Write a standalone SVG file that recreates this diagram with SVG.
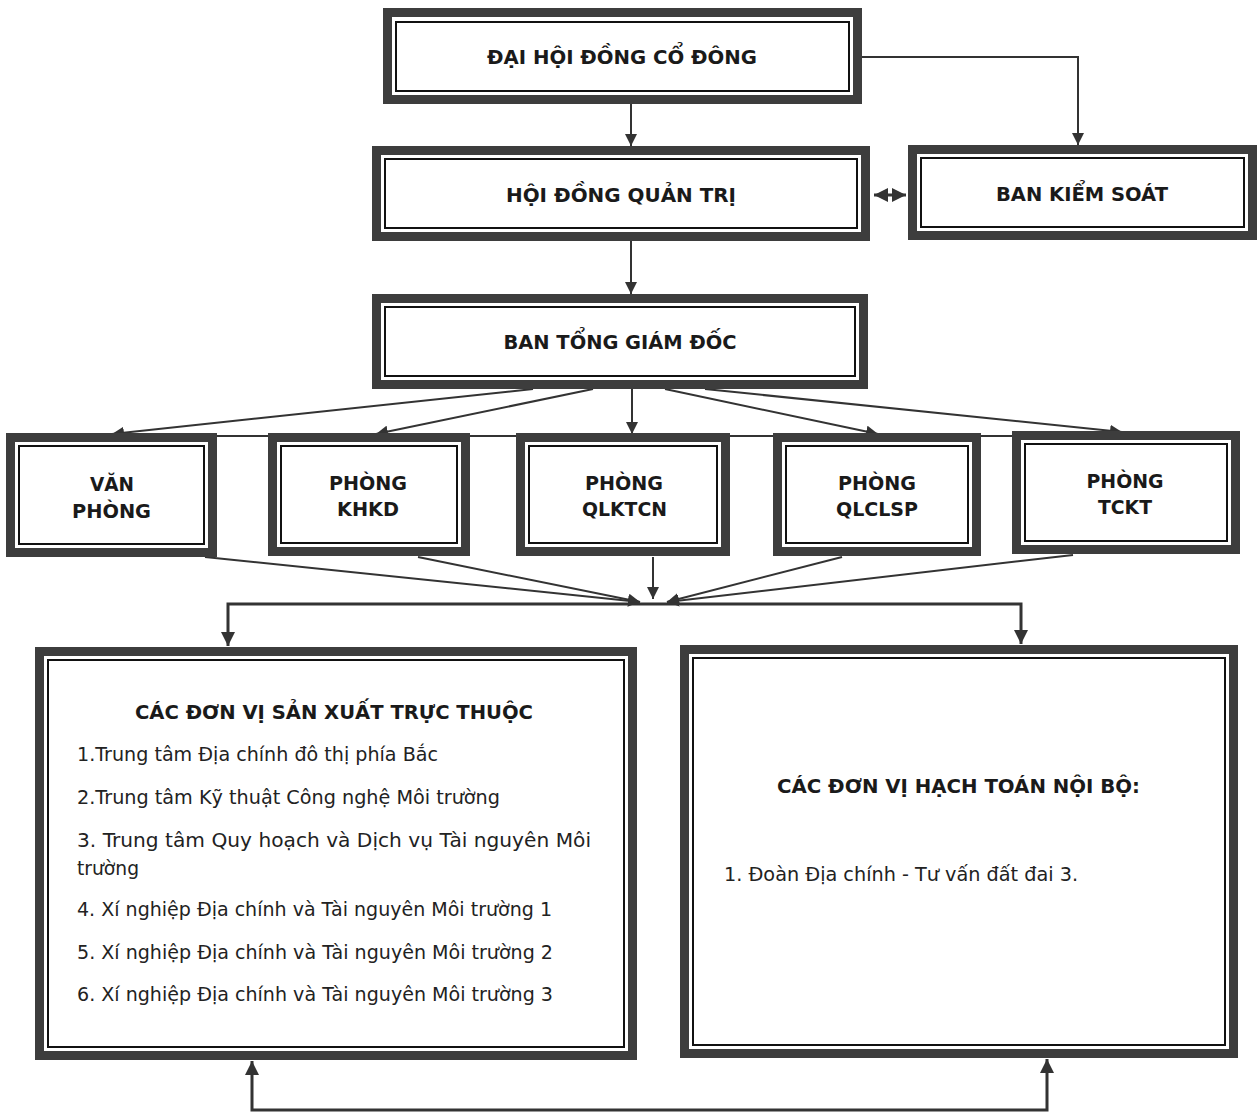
<svg xmlns="http://www.w3.org/2000/svg" width="1258" height="1115" viewBox="0 0 1258 1115">
<style>
.band{fill:#fff;stroke:#3d3d3d;stroke-width:9}
.inner{fill:#fff;stroke:#111;stroke-width:2}
.t{font-family:"DejaVu Sans","Liberation Sans",sans-serif;font-weight:bold;font-size:20px;fill:#1a1a1a;text-anchor:middle}
.b{font-family:"DejaVu Sans","Liberation Sans",sans-serif;font-size:19px;fill:#222}
.c{fill:none;stroke:#333;stroke-width:2}
.ct{fill:none;stroke:#333;stroke-width:3}
</style>
<defs>
<marker id="ah" viewBox="0 0 10 10" refX="10" refY="5" markerWidth="12" markerHeight="12" markerUnits="userSpaceOnUse" orient="auto-start-reverse">
<path d="M0,0 L10,5 L0,10 z" fill="#333"/>
</marker>
<marker id="ahb" viewBox="0 0 10 10" refX="10" refY="5" markerWidth="14" markerHeight="14" markerUnits="userSpaceOnUse" orient="auto-start-reverse">
<path d="M0,0 L10,5 L0,10 z" fill="#333"/>
</marker>
</defs>

<g id="connectors">
<line class="c" x1="110" y1="436" x2="1125" y2="436"/>
<line class="c" x1="631" y1="104" x2="631" y2="146" marker-end="url(#ah)"/>
<polyline class="c" points="862,57 1078,57 1078,145" marker-end="url(#ah)"/>
<line class="ct" x1="874" y1="195" x2="906" y2="195" marker-start="url(#ahb)" marker-end="url(#ahb)"/>
<line class="c" x1="631" y1="241" x2="631" y2="294" marker-end="url(#ah)"/>
<line class="c" x1="533" y1="389" x2="112" y2="434" marker-end="url(#ah)"/>
<line class="c" x1="593" y1="389" x2="376" y2="434" marker-end="url(#ah)"/>
<line class="c" x1="632" y1="389" x2="632" y2="434" marker-end="url(#ah)"/>
<line class="c" x1="665" y1="389" x2="878" y2="434" marker-end="url(#ah)"/>
<line class="c" x1="705" y1="389" x2="1122" y2="432" marker-end="url(#ah)"/>
<line class="c" x1="205" y1="557" x2="640" y2="602" marker-end="url(#ah)"/>
<line class="c" x1="418" y1="557" x2="640" y2="602" marker-end="url(#ah)"/>
<line class="c" x1="653" y1="557" x2="653" y2="599" marker-end="url(#ah)"/>
<line class="c" x1="842" y1="557" x2="667" y2="602" marker-end="url(#ah)"/>
<line class="c" x1="1073" y1="555" x2="667" y2="602" marker-end="url(#ah)"/>
<polyline class="ct" points="228,646 228,604 1021,604 1021,644" marker-start="url(#ahb)" marker-end="url(#ahb)"/>
<polyline class="ct" points="252,1061 252,1110 1047,1110 1047,1059" marker-start="url(#ahb)" marker-end="url(#ahb)"/>
</g>

<g id="dhdcd">
<rect class="band" x="387.5" y="12.5" width="470" height="87"/>
<rect class="inner" x="396" y="22" width="453" height="69"/>
<text class="t" x="622" y="64" textLength="270" lengthAdjust="spacingAndGlyphs">ĐẠI HỘI ĐỒNG CỔ ĐÔNG</text>
</g>

<g id="hdqt">
<rect class="band" x="376.5" y="150.5" width="489" height="86"/>
<rect class="inner" x="385" y="159" width="472" height="69"/>
<text class="t" x="621" y="202" textLength="230" lengthAdjust="spacingAndGlyphs">HỘI ĐỒNG QUẢN TRỊ</text>
</g>

<g id="bks">
<rect class="band" x="912.5" y="149.5" width="340" height="86"/>
<rect class="inner" x="921" y="158" width="323" height="69"/>
<text class="t" x="1082" y="201" textLength="172" lengthAdjust="spacingAndGlyphs">BAN KIỂM SOÁT</text>
</g>

<g id="btgd">
<rect class="band" x="376.5" y="298.5" width="487" height="86"/>
<rect class="inner" x="385" y="307" width="470" height="69"/>
<text class="t" x="620" y="349" textLength="233" lengthAdjust="spacingAndGlyphs">BAN TỔNG GIÁM ĐỐC</text>
</g>

<g id="vanphong">
<rect class="band" x="10.5" y="437.5" width="202" height="115"/>
<rect class="inner" x="19" y="446" width="185" height="98"/>
<text class="t" x="112" y="491" textLength="44" lengthAdjust="spacingAndGlyphs">VĂN</text>
<text class="t" x="111.5" y="518" textLength="79" lengthAdjust="spacingAndGlyphs">PHÒNG</text>
</g>

<g id="khkd">
<rect class="band" x="272.5" y="437.5" width="193" height="114"/>
<rect class="inner" x="281" y="446" width="176" height="97"/>
<text class="t" x="368" y="490" textLength="78" lengthAdjust="spacingAndGlyphs">PHÒNG</text>
<text class="t" x="368" y="516" textLength="62" lengthAdjust="spacingAndGlyphs">KHKD</text>
</g>

<g id="qlktcn">
<rect class="band" x="520.5" y="437.5" width="205" height="114"/>
<rect class="inner" x="529" y="446" width="188" height="97"/>
<text class="t" x="624" y="490" textLength="78" lengthAdjust="spacingAndGlyphs">PHÒNG</text>
<text class="t" x="624.5" y="516" textLength="85" lengthAdjust="spacingAndGlyphs">QLKTCN</text>
</g>

<g id="qlclsp">
<rect class="band" x="777.5" y="437.5" width="199" height="114"/>
<rect class="inner" x="786" y="446" width="182" height="97"/>
<text class="t" x="877" y="490" textLength="78" lengthAdjust="spacingAndGlyphs">PHÒNG</text>
<text class="t" x="877" y="516" textLength="82" lengthAdjust="spacingAndGlyphs">QLCLSP</text>
</g>

<g id="tckt">
<rect class="band" x="1016.5" y="435.5" width="219" height="114"/>
<rect class="inner" x="1025" y="444" width="202" height="97"/>
<text class="t" x="1125" y="488" textLength="77" lengthAdjust="spacingAndGlyphs">PHÒNG</text>
<text class="t" x="1125" y="514" textLength="54" lengthAdjust="spacingAndGlyphs">TCKT</text>
</g>

<g id="dvsx">
<rect class="band" x="39.5" y="651.5" width="593" height="404"/>
<rect class="inner" x="48" y="660" width="576" height="387"/>
<text class="t" x="334" y="719" textLength="398" lengthAdjust="spacingAndGlyphs">CÁC ĐƠN VỊ SẢN XUẤT TRỰC THUỘC</text>
<text class="b" x="77" y="761" textLength="361" lengthAdjust="spacingAndGlyphs">1.Trung tâm Địa chính đô thị phía Bắc</text>
<text class="b" x="77" y="804" textLength="423" lengthAdjust="spacingAndGlyphs">2.Trung tâm Kỹ thuật Công nghệ Môi trường</text>
<text class="b" x="77" y="847" textLength="514" lengthAdjust="spacingAndGlyphs">3. Trung tâm Quy hoạch và Dịch vụ Tài nguyên Môi</text>
<text class="b" x="77" y="875" textLength="62" lengthAdjust="spacingAndGlyphs">trường</text>
<text class="b" x="77" y="916" textLength="475" lengthAdjust="spacingAndGlyphs">4. Xí nghiệp Địa chính và Tài nguyên Môi trường 1</text>
<text class="b" x="77" y="959" textLength="476" lengthAdjust="spacingAndGlyphs">5. Xí nghiệp Địa chính và Tài nguyên Môi trường 2</text>
<text class="b" x="77" y="1001" textLength="476" lengthAdjust="spacingAndGlyphs">6. Xí nghiệp Địa chính và Tài nguyên Môi trường 3</text>
</g>

<g id="dvht">
<rect class="band" x="684.5" y="649.5" width="549" height="404"/>
<rect class="inner" x="693" y="658" width="532" height="387"/>
<text class="t" x="958.5" y="793" textLength="363" lengthAdjust="spacingAndGlyphs">CÁC ĐƠN VỊ HẠCH TOÁN NỘI BỘ:</text>
<text class="b" x="724" y="881" textLength="354" lengthAdjust="spacingAndGlyphs">1. Đoàn Địa chính - Tư vấn đất đai 3.</text>
</g>
</svg>
